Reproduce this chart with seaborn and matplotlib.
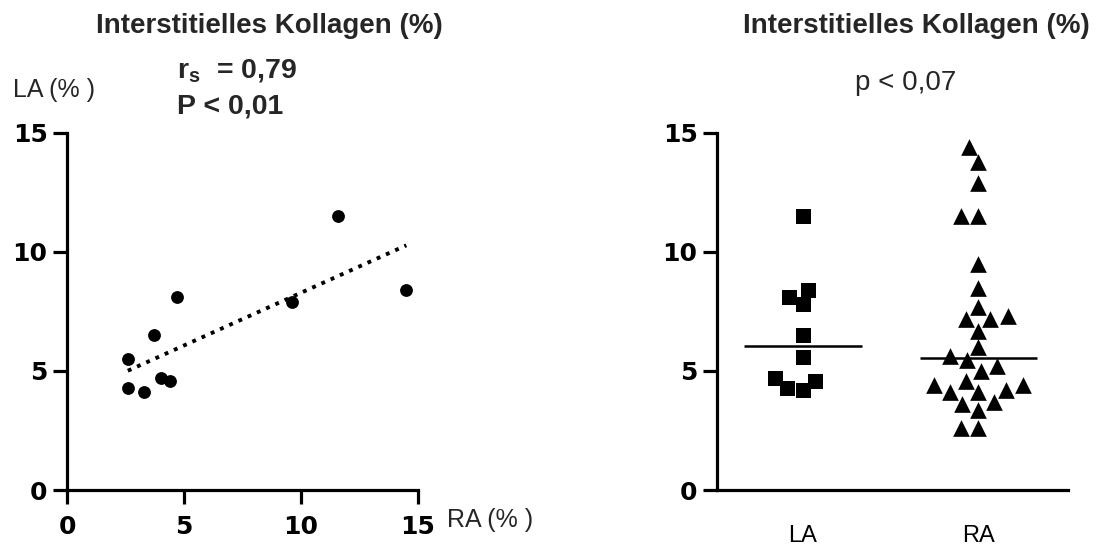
import matplotlib
matplotlib.use("Agg")
import matplotlib.pyplot as plt
import seaborn as sns
import numpy as np

# paired patients: RA (x) vs LA (y)
ra_paired = [2.6, 2.6, 3.3, 3.7, 4.0, 4.4, 4.7, 9.6, 11.6, 14.5]
la_paired = [5.5, 4.3, 4.1, 6.5, 4.7, 4.6, 8.1, 7.9, 11.5, 8.4]

# group values
la_values = [11.5, 8.1, 7.8, 8.4, 6.5, 5.6, 4.6, 4.2, 4.3, 4.7]
ra_values = [14.4, 13.8, 12.9, 11.5, 11.5, 9.5, 8.5, 7.7, 7.2, 7.2, 7.3, 6.7,
             6.0, 5.65, 5.2, 5.45, 5.0, 4.6, 4.4, 4.4, 4.1, 4.1, 4.2, 3.7,
             3.6, 3.35, 2.6, 2.6]
groups = ["LA", "RA"]
y_ticks = [0, 5, 10, 15]

sns.set_style("ticks")
plt.rcParams.update({
    "font.family": ["Liberation Sans", "DejaVu Sans"],
    "mathtext.default": "regular",
    "axes.linewidth": 2.3,
    "axes.edgecolor": "black",
    "xtick.major.width": 2.3,
    "ytick.major.width": 2.3,
    "xtick.major.size": 10,
    "ytick.major.size": 10,
    "xtick.color": "black",
    "ytick.color": "black",
})

W, H = 1109, 551
fig = plt.figure(figsize=(W / 100, H / 100), dpi=100)
ax1 = fig.add_axes([67 / W, 1 - 490 / H, 351 / W, 357 / H])
ax2 = fig.add_axes([717 / W, 1 - 490 / H, 351 / W, 357 / H])

tick_font = {"family": "DejaVu Sans", "weight": "heavy", "size": 18}

# left: correlation
sns.regplot(x=ra_paired, y=la_paired, ax=ax1, ci=None, color="black",
            scatter_kws={"s": 85, "linewidths": 0, "alpha": 1},
            line_kws={"linestyle": (0, (1.0, 1.6)), "linewidth": 2.8})
ax1.set_xlim(0, 15)
ax1.set_ylim(0, 15)
ax1.set_xticks(y_ticks)
ax1.set_yticks(y_ticks)

# right: column scatter with medians
order = groups
sns.swarmplot(x=["LA"] * len(la_values), y=la_values, order=order, ax=ax2,
              color="black", marker="s", size=10.8, linewidth=0)
sns.swarmplot(x=["RA"] * len(ra_values), y=ra_values, order=order, ax=ax2,
              color="black", marker="^", size=12, linewidth=0)
for i, vals in enumerate([la_values, ra_values]):
    ax2.hlines(np.median(vals), i - 0.335, i + 0.335, color="black", linewidth=1.8)
ax2.set_xlim(-0.49, 1.51)
ax2.set_ylim(0, 15)
ax2.set_yticks(y_ticks)
ax2.tick_params(axis="x", length=0, pad=25, labelsize=17)

for ax in (ax1, ax2):
    sns.despine(ax=ax)
    ax.set_xlabel("")
    ax.set_ylabel("")
    ax.grid(False)
    ax.tick_params(axis="y", pad=4)
    ax.set_yticks(y_ticks)
    ax.set_yticklabels([str(t) for t in y_ticks], fontdict=tick_font)
ax1.tick_params(axis="x", pad=8)
ax1.set_xticklabels([str(t) for t in y_ticks], fontdict=tick_font)

# texts
fig.text(269 / W, 1 - 33 / H, "Interstitielles Kollagen (%)", ha="center", va="baseline",
         fontsize=20, fontweight="bold")
fig.text(916 / W, 1 - 33 / H, "Interstitielles Kollagen (%)", ha="center", va="baseline",
         fontsize=20, fontweight="bold")
fig.text(13 / W, 1 - 97 / H, "LA (% )", ha="left", va="baseline", fontsize=18)
fig.text(177 / W, 1 - 78 / H, "r$_s$  = 0,79", ha="left", va="baseline",
         fontsize=20.5, fontweight="bold")
fig.text(177 / W, 1 - 113 / H, "P < 0,01", ha="left", va="baseline",
         fontsize=20.5, fontweight="bold")
fig.text(906 / W, 1 - 90 / H, "p < 0,07", ha="center", va="baseline", fontsize=20)
fig.text(447 / W, 1 - 527 / H, "RA (% )", ha="left", va="baseline", fontsize=18)

fig.savefig("out.png", dpi=100)
plt.close(fig)
